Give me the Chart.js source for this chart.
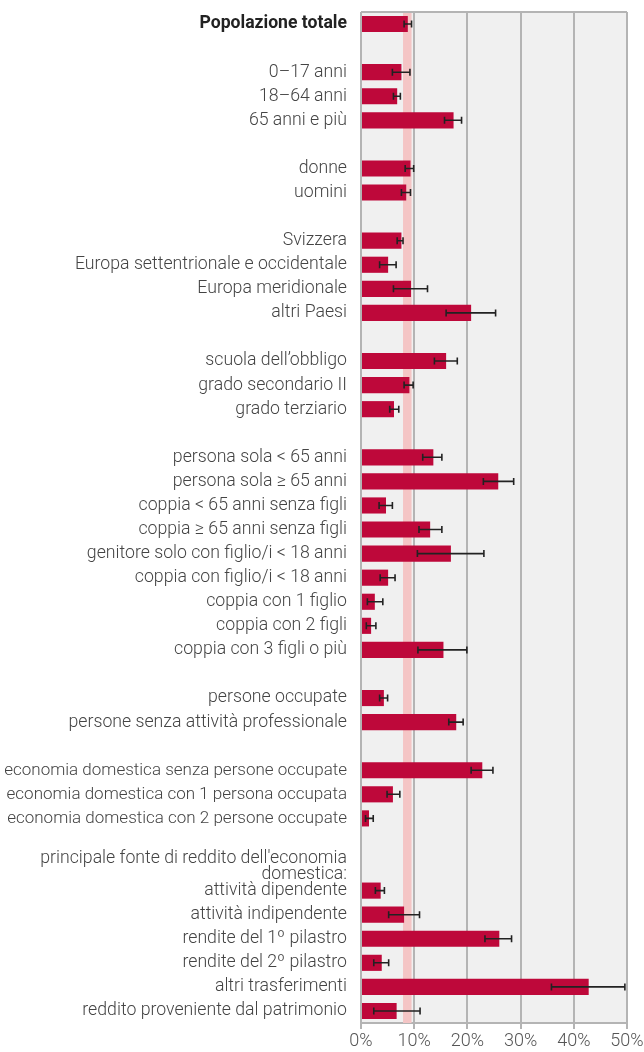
<!DOCTYPE html>
<html>
<head>
<meta charset="utf-8">
<script src="https://cdn.jsdelivr.net/npm/chart.js@4.4.1/dist/chart.umd.min.js"></script>
<style>
  body { margin: 0; background: #fff; }
  canvas { display: block; }
</style>
</head>
<body>
<canvas id="povertyChart" width="644" height="1052"></canvas>
<script>
// Categories (empty strings are the spacer rows)
const labels = [
  "Popolazione totale", "",
  "0\u201317 anni", "18\u201364 anni", "65 anni e più", "",
  "donne", "uomini", "",
  "Svizzera", "Europa settentrionale e occidentale", "Europa meridionale", "altri Paesi", "",
  "scuola dell\u2019obbligo", "grado secondario II", "grado terziario", "",
  "persona sola < 65 anni", "persona sola \u2265 65 anni", "coppia < 65 anni senza figli",
  "coppia \u2265 65 anni senza figli", "genitore solo con figlio/i < 18 anni",
  "coppia con figlio/i < 18 anni", "coppia con 1 figlio", "coppia con 2 figli",
  "coppia con 3 figli o più", "",
  "persone occupate", "persone senza attività professionale", "",
  "economia domestica senza persone occupate", "economia domestica con 1 persona occupata",
  "economia domestica con 2 persone occupate", "",
  ["principale fonte di reddito dell'economia", "domestica:"],
  "attività dipendente", "attività indipendente", "rendite del 1\u00ba pilastro",
  "rendite del 2\u00ba pilastro", "altri trasferimenti", "reddito proveniente dal patrimonio"
];

// Poverty rate in %
const rates = [
  8.8, null,
  7.6, 6.8, 17.4, null,
  9.3, 8.5, null,
  7.6, 5.1, 9.4, 20.7, null,
  16.0, 9.1, 6.2, null,
  13.6, 25.8, 4.7, 13.0, 16.9, 5.1, 2.6, 1.9, 15.5, null,
  4.3, 17.9, null,
  22.8, 6.0, 1.5, null,
  null,
  3.7, 8.1, 26.0, 3.9, 42.8, 6.7
];

// Confidence interval bounds
const ciLow = [
  8.1, null,
  5.9, 6.1, 15.7, null,
  8.3, 7.6, null,
  6.8, 3.5, 6.1, 16.0, null,
  13.8, 8.1, 5.4, null,
  11.6, 23.0, 3.4, 10.9, 10.6, 3.6, 1.2, 1.0, 10.7, null,
  3.5, 16.5, null,
  20.7, 4.9, 0.85, null,
  null,
  2.7, 5.2, 23.3, 2.4, 35.8, 2.4
];
const ciHigh = [
  9.5, null,
  9.2, 7.4, 18.9, null,
  9.9, 9.3, null,
  7.9, 6.6, 12.5, 25.3, null,
  18.1, 9.8, 7.1, null,
  15.2, 28.7, 5.9, 15.2, 23.1, 6.4, 4.1, 2.8, 19.9, null,
  5.0, 19.2, null,
  24.8, 7.3, 2.3, null,
  null,
  4.4, 11.0, 28.3, 5.2, 49.6, 11.1
];

// Band for the total population interval
const totalBand = [7.9, 9.5];
const xTicks = [0, 10, 20, 30, 40, 50];

const gridGray = "#b4b4b4";

// plot background, band and top frame
const plotBackground = {
  id: "plotBackground",
  beforeDraw(chart) {
    const { ctx, chartArea: a } = chart;
    ctx.save();
    ctx.fillStyle = "#f0f0f0";
    ctx.fillRect(a.left, a.top, a.right - a.left, a.bottom - a.top);
    ctx.restore();
  },
  beforeDatasetsDraw(chart) {
    const { ctx, chartArea: a, scales } = chart;
    const x1 = scales.x.getPixelForValue(totalBand[0]);
    const x2 = scales.x.getPixelForValue(totalBand[1]);
    ctx.save();
    ctx.fillStyle = "#f4c5c5";
    ctx.fillRect(x1, a.top, x2 - x1, a.bottom - a.top);
    ctx.strokeStyle = gridGray;
    ctx.lineWidth = 2;
    ctx.beginPath();
    ctx.moveTo(a.left, a.top);
    ctx.lineTo(a.right, a.top);
    ctx.stroke();
    ctx.restore();
  }
};

// error bars
const errorBars = {
  id: "errorBars",
  afterDatasetsDraw(chart) {
    const { ctx, scales } = chart;
    ctx.save();
    ctx.strokeStyle = "#222";
    ctx.lineWidth = 1.6;
    rates.forEach((v, i) => {
      if (v === null || ciLow[i] === null) return;
      const y = scales.y.getPixelForValue(i);
      const x1 = scales.x.getPixelForValue(ciLow[i]);
      const x2 = scales.x.getPixelForValue(ciHigh[i]);
      ctx.beginPath();
      ctx.moveTo(x1, y); ctx.lineTo(x2, y);
      ctx.moveTo(x1, y - 3.5); ctx.lineTo(x1, y + 3.5);
      ctx.moveTo(x2, y - 3.5); ctx.lineTo(x2, y + 3.5);
      ctx.stroke();
    });
    ctx.restore();
  }
};

// long household labels are set a bit tighter so they fit
function labelFont(c) {
  const text = labels[c.index];
  if (c.index === 0) return { family: "Roboto", size: 17.6, weight: "bold", lineHeight: 0.95 };
  const size = (typeof text === "string" && text.startsWith("economia domestica")) ? 17 : 17.7;
  return { family: "Roboto", size: size, weight: 300, lineHeight: 0.95 };
}

new Chart(document.getElementById("povertyChart").getContext("2d"), {
  type: "bar",
  data: {
    labels: labels,
    datasets: [{
      data: rates,
      backgroundColor: "#be083a",
      barPercentage: 0.67,
      categoryPercentage: 1
    }]
  },
  options: {
    indexAxis: "y",
    responsive: false,
    animation: false,
    devicePixelRatio: 1,
    layout: { padding: { top: 12, right: 17, left: 0, bottom: 0 } },
    plugins: { legend: { display: false }, tooltip: { enabled: false } },
    scales: {
      x: {
        min: 0, max: 50,
        afterBuildTicks: s => { s.ticks = xTicks.map(v => ({ value: v })); },
        afterFit: s => { s.height = 29; s.paddingLeft = 0; s.paddingRight = 0; },
        grid: { color: gridGray, lineWidth: 2, tickLength: 6 },
        border: { color: gridGray, width: 2 },
        ticks: {
          callback: v => v + "%",
          color: "#555",
          padding: 2,
          font: { family: "Roboto", size: 18, weight: 300 }
        }
      },
      y: {
        afterFit: s => { s.width = 361; s.paddingTop = 0; s.paddingBottom = 0; },
        grid: { display: false, drawTicks: false },
        border: { display: false },
        ticks: {
          padding: 14,
          autoSkip: false,
          color: c => c.index === 0 ? "#222" : "#444",
          font: labelFont
        }
      }
    }
  },
  plugins: [plotBackground, errorBars]
});
</script>
</body>
</html>
